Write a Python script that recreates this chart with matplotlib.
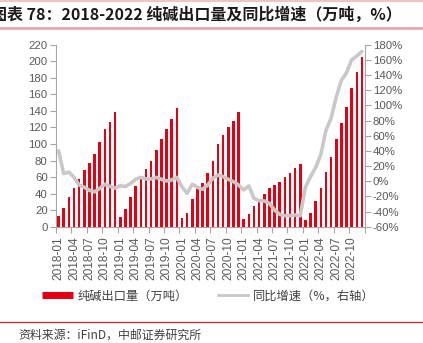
import matplotlib
matplotlib.use('Agg')
import matplotlib.pyplot as plt
import numpy as np
from matplotlib.lines import Line2D

plt.rcParams['font.family'] = ['Liberation Sans', 'Noto Sans CJK SC', 'DejaVu Sans']

# ---------------- data ----------------
years = [2018, 2019, 2020, 2021, 2022]
months = [f"{y}-{m:02d}" for y in years for m in range(1, 13)]

exports_2018 = [12.6, 22.6, 36.3, 46.8, 58.1, 68.6, 77.4, 87.9, 102.0, 117.7, 126.6, 138.3]
exports_2019 = [11.4, 21.0, 35.5, 49.2, 60.5, 70.1, 79.4, 92.4, 105.7, 118.1, 129.9, 143.9]
exports_2020 = [10.1, 17.0, 33.5, 45.4, 53.0, 64.9, 79.8, 99.6, 110.7, 120.6, 127.4, 138.1]
exports_2021 = [8.9, 15.5, 25.0, 33.1, 39.5, 46.4, 50.4, 54.4, 60.1, 64.5, 70.6, 76.2]
exports_2022 = [8.1, 17.0, 31.1, 46.4, 66.1, 84.3, 106.4, 125.0, 145.1, 167.4, 186.7, 205.2]
exports = exports_2018 + exports_2019 + exports_2020 + exports_2021 + exports_2022

yoy_2018 = [40.0, 10.0, 12.0, 5.0, -5.0, -8.0, -12.0, -14.0, -9.5, -4.0, -7.0, -9.0]
yoy_2019 = [-6.0, -7.0, -3.0, 2.5, 5.0, 3.0, 3.0, 5.0, 2.5, 0.3, 1.7, 5.0]
yoy_2020 = [-7.3, -16.0, -4.0, -8.0, -10.7, -5.0, 3.8, 8.2, 6.0, 2.5, -0.6, -5.0]
yoy_2021 = [-11.6, -6.3, -22.6, -25.7, -26.0, -29.2, -38.0, -43.7, -45.5, -45.5, -44.6, -45.5]
yoy_2022 = [-8.0, 6.0, 18.0, 35.0, 67.0, 83.0, 111.0, 133.0, 143.0, 160.0, 165.0, 171.0]
yoy = yoy_2018 + yoy_2019 + yoy_2020 + yoy_2021 + yoy_2022

left_ticks = list(range(0, 221, 20))
right_ticks = list(range(-60, 181, 20))

title = "图表 78：2018-2022 纯碱出口量及同比增速（万吨，%）"
bar_label = "纯碱出口量（万吨）"
line_label = "同比增速（%，右轴）"
source = "资料来源：iFinD，中邮证券研究所"

# ---------------- figure ----------------
W, H = 423, 343
fig = plt.figure(figsize=(W / 100, H / 100), dpi=100)

RED = '#E60012'
GRAY_LINE = '#C8C8C8'
SPINE = '#A6A6A6'
TXT = '#595959'

ax = fig.add_axes([56 / W, 1 - 226.7 / H, (364.5 - 56) / W, (226.7 - 44.7) / H])
x = np.arange(len(months))
ax.bar(x, exports, width=0.5, color=RED, linewidth=0)
ax.set_xlim(-0.5, len(months) - 0.5)
ax.set_ylim(0, 220)
ax.set_yticks(left_ticks)
ax.set_yticklabels([str(v) for v in left_ticks])

ax.set_xticks(x[::3])
ax.set_xticklabels(months[::3], rotation=90)
ax.set_xticks(np.arange(-0.5, len(months), 3), minor=True)
ax.tick_params(axis='x', which='major', length=0, pad=7, labelsize=8.6, labelcolor=TXT)
ax.tick_params(axis='x', which='minor', length=4, color=SPINE, width=0.8)
ax.tick_params(axis='y', length=4, color=SPINE, width=0.8, pad=2, labelsize=8.2, labelcolor=TXT)

ax2 = ax.twinx()
ax2.plot(x, yoy, color=GRAY_LINE, lw=2.6, solid_joinstyle='round', solid_capstyle='round')
ax2.set_ylim(-60, 180)
ax2.set_yticks(right_ticks)
ax2.set_yticklabels([f"{v}%" for v in right_ticks])
ax2.tick_params(axis='y', length=4, color=SPINE, width=0.8, pad=2, labelsize=8.2, labelcolor=TXT)

for a in (ax, ax2):
    a.spines['top'].set_visible(False)
    for s in ('left', 'right', 'bottom'):
        a.spines[s].set_color(SPINE)
        a.spines[s].set_linewidth(0.8)
ax.spines['right'].set_visible(False)
ax2.spines['left'].set_visible(False)
ax2.spines['bottom'].set_visible(False)

# legend
handles = [Line2D([], [], color=RED, lw=5, solid_capstyle='butt'),
           Line2D([], [], color=GRAY_LINE, lw=2)]
leg = fig.legend(handles, [bar_label, line_label], loc='center',
                 bbox_to_anchor=(0.493, 1 - 296 / H), ncol=2, frameon=False,
                 prop={'family': ['Noto Sans CJK SC'], 'size': 8.8},
                 handlelength=2.5, handletextpad=0.4, columnspacing=2.4)
for t in leg.get_texts():
    t.set_color('#404040')

# title and decorations
fig.text(-9 / W, 1 - 14.5 / H, title, fontsize=11.5, fontweight='bold',
         family=['Noto Sans CJK SC', 'DejaVu Sans'], va='center', ha='left', color='#1a1a1a')
fig.add_artist(Line2D([0, 1], [1 - 0.8 / H] * 2, transform=fig.transFigure, color='#F0B8B8', lw=1.2))
fig.add_artist(Line2D([0, 1], [1 - 27.8 / H] * 2, transform=fig.transFigure, color='#E8A0A0', lw=1.8))
fig.add_artist(Line2D([0, 1], [1 - 321.7 / H] * 2, transform=fig.transFigure, color='#D02020', lw=0.9))
fig.text(18 / W, 1 - 335 / H, source, fontsize=8.6, family=['Noto Sans CJK SC', 'DejaVu Sans'],
         va='center', ha='left', color='#404040')

fig.savefig('out.png', dpi=100)
